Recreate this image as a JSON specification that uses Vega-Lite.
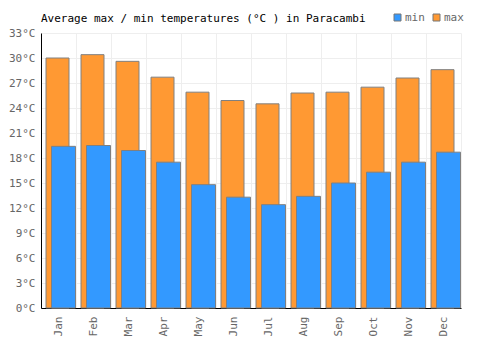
{
  "$schema": "https://vega.github.io/schema/vega-lite/v6.json",
  "width": 420,
  "height": 275,
  "autosize": {"type": "none"},
  "padding": {"left": 41, "top": 33, "right": 39, "bottom": 42},
  "background": "white",
  "title": {
    "text": "Average max / min temperatures (°C ) in Paracambi",
    "anchor": "start",
    "frame": "group",
    "font": "DejaVu Sans Mono",
    "fontSize": 11,
    "fontWeight": "normal",
    "color": "#000000",
    "offset": -12
  },
  "config": {
    "view": {"stroke": null},
    "font": "DejaVu Sans Mono"
  },
  "data": {
    "values": [
      {"month": "Jan", "type": "max", "temp": 30.0},
      {"month": "Feb", "type": "max", "temp": 30.4},
      {"month": "Mar", "type": "max", "temp": 29.6},
      {"month": "Apr", "type": "max", "temp": 27.7},
      {"month": "May", "type": "max", "temp": 25.9},
      {"month": "Jun", "type": "max", "temp": 24.9},
      {"month": "Jul", "type": "max", "temp": 24.5},
      {"month": "Aug", "type": "max", "temp": 25.8},
      {"month": "Sep", "type": "max", "temp": 25.9},
      {"month": "Oct", "type": "max", "temp": 26.5},
      {"month": "Nov", "type": "max", "temp": 27.6},
      {"month": "Dec", "type": "max", "temp": 28.6},
      {"month": "Jan", "type": "min", "temp": 19.4},
      {"month": "Feb", "type": "min", "temp": 19.5},
      {"month": "Mar", "type": "min", "temp": 18.9},
      {"month": "Apr", "type": "min", "temp": 17.5},
      {"month": "May", "type": "min", "temp": 14.8},
      {"month": "Jun", "type": "min", "temp": 13.3},
      {"month": "Jul", "type": "min", "temp": 12.4},
      {"month": "Aug", "type": "min", "temp": 13.4},
      {"month": "Sep", "type": "min", "temp": 15.0},
      {"month": "Oct", "type": "min", "temp": 16.3},
      {"month": "Nov", "type": "min", "temp": 17.5},
      {"month": "Dec", "type": "min", "temp": 18.7}
    ]
  },
  "encoding": {
    "x": {
      "field": "month",
      "type": "nominal",
      "sort": ["Jan","Feb","Mar","Apr","May","Jun","Jul","Aug","Sep","Oct","Nov","Dec"],
      "scale": {"paddingInner": 0, "paddingOuter": 0},
      "axis": {
        "title": null,
        "labelAngle": -90,
        "labelAlign": "right",
        "labelBaseline": "middle",
        "labelFont": "DejaVu Sans Mono",
        "labelFontSize": 11,
        "labelColor": "#666666",
        "labelPadding": 8,
        "ticks": false,
        "domainColor": "#000000",
        "domainWidth": 1,
        "grid": true,
        "gridColor": "#eeeeee",
        "tickBand": "extent"
      }
    },
    "y": {
      "field": "temp",
      "type": "quantitative",
      "scale": {"domain": [0, 33], "nice": false},
      "axis": {
        "title": null,
        "values": [0,3,6,9,12,15,18,21,24,27,30,33],
        "labelExpr": "datum.value + '°C'",
        "labelFont": "DejaVu Sans Mono",
        "labelFontSize": 11,
        "labelColor": "#666666",
        "labelPadding": 6,
        "ticks": false,
        "domainColor": "#000000",
        "domainWidth": 1,
        "gridColor": "#eeeeee"
      }
    },
    "color": {
      "field": "type",
      "type": "nominal",
      "scale": {"domain": ["min", "max"], "range": ["#3399ff", "#ff9933"]},
      "legend": {
        "title": null,
        "orient": "none",
        "direction": "horizontal",
        "legendX": 351,
        "legendY": -21,
        "symbolType": "square",
        "symbolSize": 49,
        "symbolStrokeColor": "#777777",
        "symbolStrokeWidth": 1,
        "symbolOpacity": 1,
        "labelFont": "DejaVu Sans Mono",
        "labelFontSize": 11,
        "labelColor": "#666666",
        "labelOffset": 2,
        "columnPadding": 6
      }
    }
  },
  "layer": [
    {
      "transform": [{"filter": "datum.type == 'max'"}],
      "mark": {"type": "bar", "width": 23, "xOffset": -1, "stroke": "#808080", "strokeWidth": 1, "opacity": 1}
    },
    {
      "transform": [{"filter": "datum.type == 'min'"}],
      "mark": {"type": "bar", "width": 24, "xOffset": 5, "stroke": "#808080", "strokeWidth": 1, "opacity": 1}
    }
  ]
}
